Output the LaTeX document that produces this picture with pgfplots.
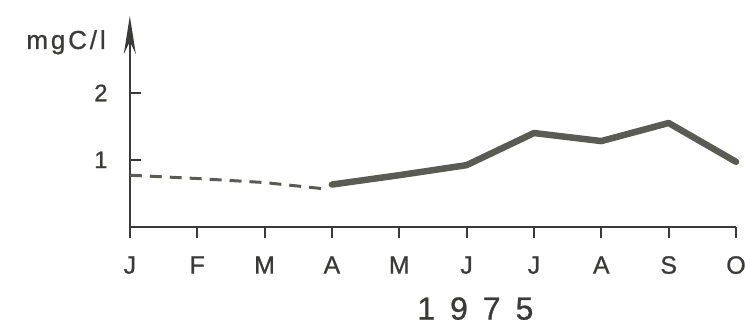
\documentclass[border=0pt]{standalone}
\usepackage{pgfplots}
\pgfplotsset{compat=1.18}
\usetikzlibrary{arrows.meta}
\usepackage{fontspec}
\setmainfont{Liberation Sans}[FakeBold=0.8]
\newfontfamily\spaced{Liberation Sans}[LetterSpace=11,FakeBold=0.8]
\definecolor{ink}{HTML}{3A3B38}
\definecolor{lin}{HTML}{5A5C54}
\begin{document}
\begin{tikzpicture}
\useasboundingbox (-130pt,-99pt) rectangle (616pt,227pt);
\begin{axis}[
  at={(0,0)}, anchor=south west,
  scale only axis,
  width=607pt, height=211pt,
  xmin=0, xmax=9, ymin=0, ymax=3.15,
  clip=false,
  axis x line*=bottom, axis y line*=left,
  x axis line style={-, line width=2pt, ink},
  y axis line style={-{Stealth[length=38pt,width=12pt]}, line width=2pt, ink},
  xtick={0,...,9},
  xticklabels={J,F,M,A,M,J,J,A,S,O},
  ytick={1,2},
  yticklabels={1,2},
  /pgf/number format/assume math mode=true,
  x tick style={line width=2pt, ink},
  xtick align=outside,
  major tick length=11pt,
  y tick style={line width=2pt, ink},
  ytick align=inside,
  xticklabel style={font=\fontsize{25}{27}\selectfont, text=ink, anchor=base, yshift=-36pt},
  yticklabel style={font=\fontsize{24}{26}\selectfont, text=ink, anchor=center, xshift=-29pt},
]
\addplot[lin, line width=3pt, dash pattern=on 12pt off 8pt] coordinates {
  (0,0.77) (1,0.72) (2,0.66) (2.85,0.57)
};
\addplot[lin, line width=6.5pt, line join=round, line cap=round] coordinates {
  (3,0.63) (4,0.77) (5,0.92) (6,1.40) (7,1.28) (8,1.55) (9,0.97)
};
\end{axis}
\node[anchor=base east, text=ink, font=\spaced\fontsize{26}{28}\selectfont, inner sep=0pt] at (-24pt,178pt) {mgC/l};
\node[anchor=base, text=ink, font=\fontsize{32}{34}\selectfont, inner sep=0pt] at (346pt,-93pt) {1\hspace{15pt}9\hspace{15pt}7\hspace{15pt}5};
\end{tikzpicture}
\end{document}
